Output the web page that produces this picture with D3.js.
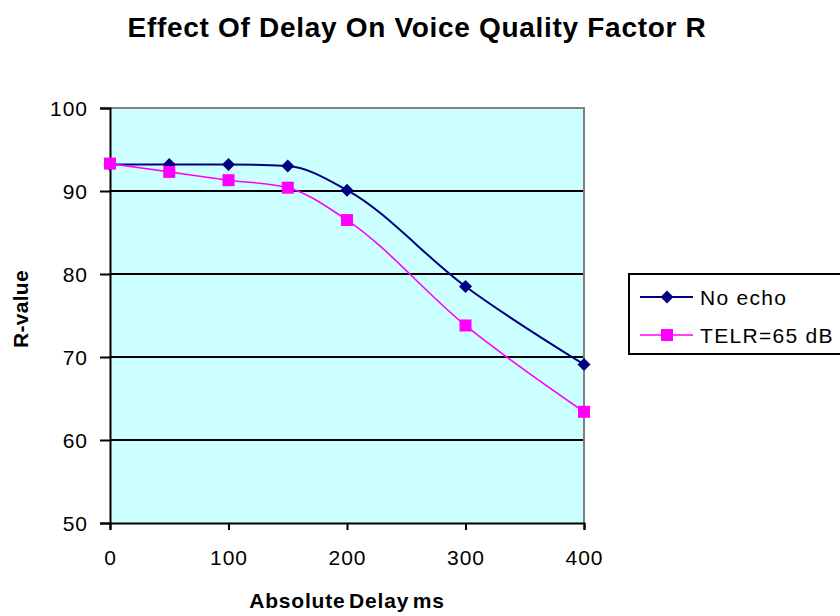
<!DOCTYPE html>
<html>
<head>
<meta charset="utf-8">
<script src="https://cdn.jsdelivr.net/npm/d3@7"></script>
<style>
  html, body { margin: 0; padding: 0; background: #ffffff; }
  svg { display: block; }
  text { font-family: "Liberation Sans", Arial, sans-serif; fill: #000; }
</style>
</head>
<body>
<svg id="chart" width="840" height="616"></svg>
<script>
// ---- data ----
const delays = [0, 50, 100, 150, 200, 300, 400];
const noEcho = [93.2, 93.2, 93.2, 93.0, 90.1, 78.5, 69.1];
const telr65 = [93.3, 92.3, 91.3, 90.4, 86.5, 73.8, 63.4];
const seriesNames = ["No echo", "TELR=65 dB"];
const xTicks = [0, 100, 200, 300, 400];
const yTicks = [50, 60, 70, 80, 90, 100];
const titleText = "Effect Of Delay On Voice Quality Factor R";
const xTitle = "Absolute Delay ms";
const yTitle = "R-value";

// ---- layout ----
const plot = { left: 110, right: 584, top: 108, bottom: 523 };
const svg = d3.select("#chart");

const x = d3.scaleLinear().domain([0, 400]).range([plot.left, plot.right]);
const y = d3.scaleLinear().domain([50, 100]).range([plot.bottom, plot.top]);

// plot background
svg.append("rect")
  .attr("x", plot.left).attr("y", plot.top)
  .attr("width", plot.right - plot.left).attr("height", plot.bottom - plot.top)
  .attr("fill", "#CCFFFF");

// gridlines
svg.append("g").selectAll("line")
  .data(yTicks.filter(d => d > 50 && d < 100))
  .join("line")
  .attr("x1", plot.left).attr("x2", plot.right)
  .attr("y1", d => y(d)).attr("y2", d => y(d))
  .attr("stroke", "#000").attr("stroke-width", 2);

// plot border top/right (gray)
svg.append("path")
  .attr("d", `M${plot.left},${plot.top}H${plot.right}V${plot.bottom}`)
  .attr("fill", "none").attr("stroke", "#808080").attr("stroke-width", 2);

// y axis
const yAxis = d3.axisLeft(y).tickValues(yTicks).tickSize(10).tickPadding(12)
  .tickFormat(d3.format("d"));
const gy = svg.append("g").attr("transform", `translate(${plot.left},0)`).call(yAxis);
gy.select(".domain").attr("stroke", "#000").attr("stroke-width", 2);
gy.selectAll(".tick line").attr("stroke", "#000").attr("stroke-width", 2);
gy.selectAll(".tick text")
  .attr("font-family", "Liberation Sans, Arial, sans-serif")
  .attr("font-size", 21).attr("letter-spacing", 1).attr("fill", "#111")
  .attr("dy", "0.36em");

// x axis
const xAxis = d3.axisBottom(x).tickValues(xTicks).tickSize(7).tickPadding(20)
  .tickFormat(d3.format("d"));
const gx = svg.append("g").attr("transform", `translate(0,${plot.bottom})`).call(xAxis);
gx.select(".domain").attr("stroke", "#000").attr("stroke-width", 2);
gx.selectAll(".tick line").attr("stroke", "#000").attr("stroke-width", 2);
gx.selectAll(".tick text")
  .attr("font-family", "Liberation Sans, Arial, sans-serif")
  .attr("font-size", 21).attr("letter-spacing", 1).attr("fill", "#111")
  .attr("dy", "0.71em");

// lines
const curve = d3.curveMonotoneX;
const lineGen = d3.line().x(d => x(d[0])).y(d => y(d[1])).curve(curve);
const s1 = delays.map((d, i) => [d, noEcho[i]]);
const s2 = delays.map((d, i) => [d, telr65[i]]);
const blue = "#000080", pink = "#FF00FF";

svg.append("path").attr("d", lineGen(s1)).attr("fill", "none")
  .attr("stroke", blue).attr("stroke-width", 2);
svg.append("path").attr("d", lineGen(s2)).attr("fill", "none")
  .attr("stroke", pink).attr("stroke-width", 1.6);

const diamond = (cx, cy, r) => `M${cx},${cy - r}L${cx + r},${cy}L${cx},${cy + r}L${cx - r},${cy}Z`;

svg.append("g").selectAll("path").data(s1).join("path")
  .attr("d", d => diamond(x(d[0]), y(d[1]), 6.5))
  .attr("fill", blue);
svg.append("g").selectAll("rect").data(s2).join("rect")
  .attr("x", d => x(d[0]) - 6).attr("y", d => y(d[1]) - 6)
  .attr("width", 12).attr("height", 12)
  .attr("fill", pink);

// title
svg.append("text").attr("x", 417).attr("y", 37).attr("text-anchor", "middle")
  .attr("font-size", 28).attr("font-weight", "bold").attr("letter-spacing", 0.7)
  .text(titleText);

// axis titles
svg.append("text").attr("x", 347).attr("y", 608).attr("text-anchor", "middle")
  .attr("font-size", 21).attr("font-weight", "bold").attr("letter-spacing", 0.8)
  .attr("word-spacing", -3)
  .text(xTitle);
svg.append("text").attr("transform", "translate(28,309) rotate(-90)")
  .attr("text-anchor", "middle")
  .attr("font-size", 21).attr("font-weight", "bold").attr("letter-spacing", 0.3)
  .text(yTitle);

// legend
const lg = svg.append("g");
lg.append("rect").attr("x", 629).attr("y", 274).attr("width", 240).attr("height", 80)
  .attr("fill", "#fff").attr("stroke", "#000").attr("stroke-width", 2);
const legendRows = [
  { name: seriesNames[0], color: blue, shape: "diamond", y: 297, w: 2 },
  { name: seriesNames[1], color: pink, shape: "square", y: 335, w: 1.6 }
];
legendRows.forEach(r => {
  lg.append("line").attr("x1", 640).attr("x2", 693).attr("y1", r.y).attr("y2", r.y)
    .attr("stroke", r.color).attr("stroke-width", r.w);
  if (r.shape === "diamond") {
    lg.append("path").attr("d", diamond(667, r.y, 6.5)).attr("fill", r.color);
  } else {
    lg.append("rect").attr("x", 661).attr("y", r.y - 6).attr("width", 12).attr("height", 12)
      .attr("fill", r.color);
  }
  lg.append("text").attr("x", 700).attr("y", r.y + 7.5)
    .attr("font-size", 21).attr("letter-spacing", 1.3).attr("fill", "#111")
    .text(r.name);
});
</script>
</body>
</html>
